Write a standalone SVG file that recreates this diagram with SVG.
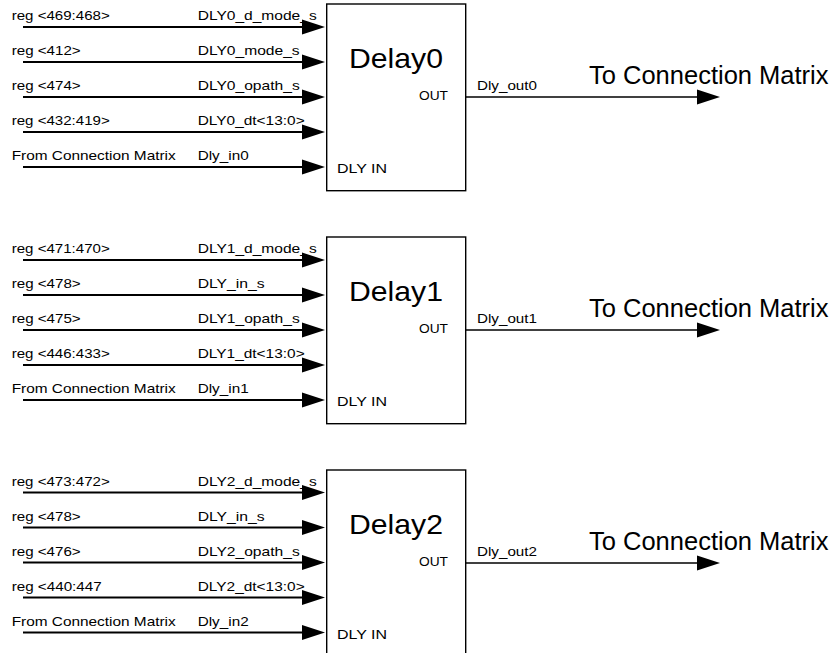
<svg xmlns="http://www.w3.org/2000/svg" width="837" height="653" viewBox="0 0 837 653">
<style>
text{font-family:"Liberation Sans",Arial,sans-serif;fill:#000}
.s{font-size:13px}
.big{font-size:28px}
.tc{font-size:25.5px}
.in{stroke:#000;stroke-width:2;fill:none}
.out{stroke:#000;stroke-width:1.3;fill:none}
.box{fill:#fff;stroke:#000;stroke-width:1.4}
</style>
<defs>
<marker id="ah" markerUnits="userSpaceOnUse" markerWidth="24" markerHeight="16" refX="0" refY="7.5" orient="auto" overflow="visible">
<path d="M0,0 L23,7.5 L0,15 Z" fill="#000"/>
</marker>
</defs>

<g id="connectors">
<!-- Block 0 -->
<line class="in" x1="23" y1="27" x2="302" y2="27" marker-end="url(#ah)"/>
<line class="in" x1="23" y1="62" x2="302" y2="62" marker-end="url(#ah)"/>
<line class="in" x1="23" y1="97" x2="302" y2="97" marker-end="url(#ah)"/>
<line class="in" x1="23" y1="132" x2="302" y2="132" marker-end="url(#ah)"/>
<line class="in" x1="23" y1="167" x2="302" y2="167" marker-end="url(#ah)"/>
<line class="out" x1="466" y1="97" x2="697" y2="97" marker-end="url(#ah)"/>
<text class="s" x="11.7" y="20" textLength="98" lengthAdjust="spacingAndGlyphs">reg &lt;469:468&gt;</text>
<text class="s" x="11.7" y="55" textLength="69" lengthAdjust="spacingAndGlyphs">reg &lt;412&gt;</text>
<text class="s" x="11.7" y="90" textLength="69" lengthAdjust="spacingAndGlyphs">reg &lt;474&gt;</text>
<text class="s" x="11.7" y="125" textLength="98" lengthAdjust="spacingAndGlyphs">reg &lt;432:419&gt;</text>
<text class="s" x="11.7" y="160" textLength="164" lengthAdjust="spacingAndGlyphs">From Connection Matrix</text>
<text class="s" x="197.7" y="20" textLength="119" lengthAdjust="spacingAndGlyphs">DLY0_d_mode_s</text>
<text class="s" x="197.7" y="55" textLength="102" lengthAdjust="spacingAndGlyphs">DLY0_mode_s</text>
<text class="s" x="197.7" y="90" textLength="102" lengthAdjust="spacingAndGlyphs">DLY0_opath_s</text>
<text class="s" x="197.7" y="125" textLength="107" lengthAdjust="spacingAndGlyphs">DLY0_dt&lt;13:0&gt;</text>
<text class="s" x="197.7" y="160" textLength="51" lengthAdjust="spacingAndGlyphs">Dly_in0</text>
<text class="s" x="477" y="90" textLength="60" lengthAdjust="spacingAndGlyphs">Dly_out0</text>
<text class="tc" x="589" y="84">To Connection Matrix</text>

<!-- Block 1 -->
<line class="in" x1="23" y1="260" x2="302" y2="260" marker-end="url(#ah)"/>
<line class="in" x1="23" y1="295" x2="302" y2="295" marker-end="url(#ah)"/>
<line class="in" x1="23" y1="330" x2="302" y2="330" marker-end="url(#ah)"/>
<line class="in" x1="23" y1="365" x2="302" y2="365" marker-end="url(#ah)"/>
<line class="in" x1="23" y1="400" x2="302" y2="400" marker-end="url(#ah)"/>
<line class="out" x1="466" y1="330" x2="697" y2="330" marker-end="url(#ah)"/>
<text class="s" x="11.7" y="253" textLength="98" lengthAdjust="spacingAndGlyphs">reg &lt;471:470&gt;</text>
<text class="s" x="11.7" y="288" textLength="69" lengthAdjust="spacingAndGlyphs">reg &lt;478&gt;</text>
<text class="s" x="11.7" y="323" textLength="69" lengthAdjust="spacingAndGlyphs">reg &lt;475&gt;</text>
<text class="s" x="11.7" y="358" textLength="98" lengthAdjust="spacingAndGlyphs">reg &lt;446:433&gt;</text>
<text class="s" x="11.7" y="393" textLength="164" lengthAdjust="spacingAndGlyphs">From Connection Matrix</text>
<text class="s" x="197.7" y="253" textLength="119" lengthAdjust="spacingAndGlyphs">DLY1_d_mode_s</text>
<text class="s" x="197.7" y="288" textLength="67" lengthAdjust="spacingAndGlyphs">DLY_in_s</text>
<text class="s" x="197.7" y="323" textLength="102" lengthAdjust="spacingAndGlyphs">DLY1_opath_s</text>
<text class="s" x="197.7" y="358" textLength="107" lengthAdjust="spacingAndGlyphs">DLY1_dt&lt;13:0&gt;</text>
<text class="s" x="197.7" y="393" textLength="51" lengthAdjust="spacingAndGlyphs">Dly_in1</text>
<text class="s" x="477" y="323" textLength="60" lengthAdjust="spacingAndGlyphs">Dly_out1</text>
<text class="tc" x="589" y="317">To Connection Matrix</text>

<!-- Block 2 -->
<line class="in" x1="23" y1="492.5" x2="302" y2="492.5" marker-end="url(#ah)"/>
<line class="in" x1="23" y1="527.5" x2="302" y2="527.5" marker-end="url(#ah)"/>
<line class="in" x1="23" y1="562.5" x2="302" y2="562.5" marker-end="url(#ah)"/>
<line class="in" x1="23" y1="597.5" x2="302" y2="597.5" marker-end="url(#ah)"/>
<line class="in" x1="23" y1="632.5" x2="302" y2="632.5" marker-end="url(#ah)"/>
<line class="out" x1="466" y1="563" x2="697" y2="563" marker-end="url(#ah)"/>
<text class="s" x="11.7" y="485.5" textLength="98" lengthAdjust="spacingAndGlyphs">reg &lt;473:472&gt;</text>
<text class="s" x="11.7" y="520.5" textLength="69" lengthAdjust="spacingAndGlyphs">reg &lt;478&gt;</text>
<text class="s" x="11.7" y="555.5" textLength="69" lengthAdjust="spacingAndGlyphs">reg &lt;476&gt;</text>
<text class="s" x="11.7" y="590.5" textLength="90" lengthAdjust="spacingAndGlyphs">reg &lt;440:447</text>
<text class="s" x="11.7" y="625.5" textLength="164" lengthAdjust="spacingAndGlyphs">From Connection Matrix</text>
<text class="s" x="197.7" y="485.5" textLength="119" lengthAdjust="spacingAndGlyphs">DLY2_d_mode_s</text>
<text class="s" x="197.7" y="520.5" textLength="67" lengthAdjust="spacingAndGlyphs">DLY_in_s</text>
<text class="s" x="197.7" y="555.5" textLength="102" lengthAdjust="spacingAndGlyphs">DLY2_opath_s</text>
<text class="s" x="197.7" y="590.5" textLength="107" lengthAdjust="spacingAndGlyphs">DLY2_dt&lt;13:0&gt;</text>
<text class="s" x="197.7" y="625.5" textLength="51" lengthAdjust="spacingAndGlyphs">Dly_in2</text>
<text class="s" x="477" y="556" textLength="60" lengthAdjust="spacingAndGlyphs">Dly_out2</text>
<text class="tc" x="589" y="550">To Connection Matrix</text>
</g>

<g id="delay0">
<rect class="box" x="326.7" y="4" width="139" height="186.7"/>
<text class="big" x="349" y="68" textLength="94" lengthAdjust="spacingAndGlyphs">Delay0</text>
<text class="s" x="419" y="100" textLength="29" lengthAdjust="spacingAndGlyphs">OUT</text>
<text class="s" x="337" y="173" textLength="50" lengthAdjust="spacingAndGlyphs">DLY IN</text>
</g>

<g id="delay1">
<rect class="box" x="326.7" y="237" width="139" height="186.7"/>
<text class="big" x="349" y="301" textLength="94" lengthAdjust="spacingAndGlyphs">Delay1</text>
<text class="s" x="419" y="333" textLength="29" lengthAdjust="spacingAndGlyphs">OUT</text>
<text class="s" x="337" y="406" textLength="50" lengthAdjust="spacingAndGlyphs">DLY IN</text>
</g>

<g id="delay2">
<rect class="box" x="326.7" y="470" width="139" height="186.7"/>
<text class="big" x="349" y="534" textLength="94" lengthAdjust="spacingAndGlyphs">Delay2</text>
<text class="s" x="419" y="566" textLength="29" lengthAdjust="spacingAndGlyphs">OUT</text>
<text class="s" x="337" y="639" textLength="50" lengthAdjust="spacingAndGlyphs">DLY IN</text>
</g>
</svg>
